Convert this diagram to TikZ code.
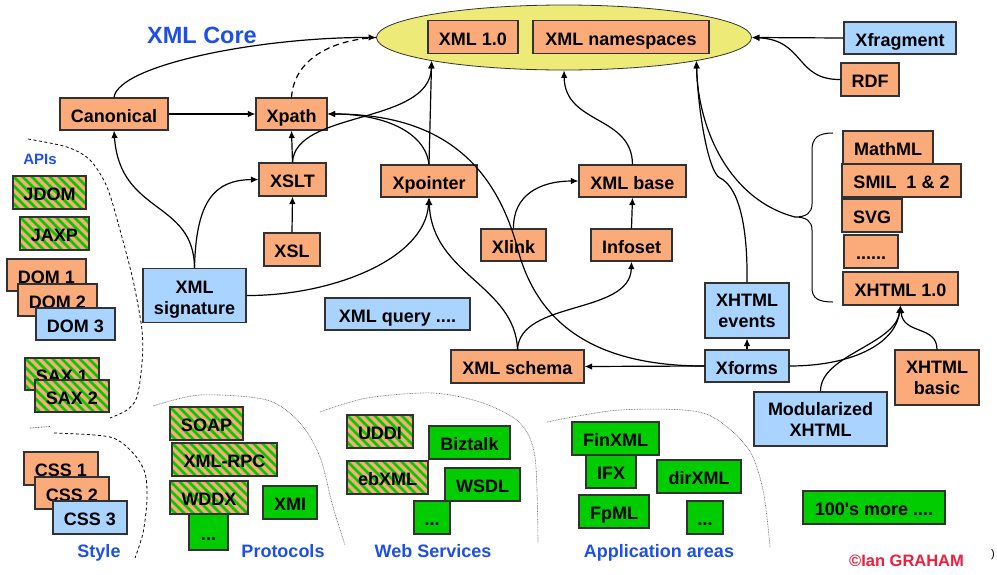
\documentclass[tikz,border=0pt]{standalone}
\usepackage{fontspec}
\setmainfont{Liberation Sans}[Ligatures=TeXOff]
\usetikzlibrary{arrows.meta,shapes.geometric}
\definecolor{cOrange}{RGB}{251,170,122}
\definecolor{cBlue}{RGB}{168,212,255}
\definecolor{cGreen}{RGB}{0,204,0}
\definecolor{cYellow}{RGB}{238,234,120}
\definecolor{cText}{RGB}{30,80,232}
\definecolor{cRed}{RGB}{240,30,60}
\definecolor{cBorder}{RGB}{50,50,50}
\tikzset{
  box/.style={draw=cBorder, line width=1.1pt, inner sep=0pt, align=center, text=black,
    font=\bfseries\fontsize{18}{21}\selectfont},
  one/.style={text height=16pt, text depth=0pt},
  obox/.style={box, one, fill=cOrange},
  bbox/.style={box, one, fill=cBlue},
  gbox/.style={box, one, fill=cGreen},
  sbox/.style={box, one, fill=cOrange, path picture={
      \foreach \k in {-8,...,14}
        \draw[cGreen, line width=2.8pt]
          ([xshift=\k*9pt]path picture bounding box.north west) -- ++(60pt,-60pt);}},
  link/.style={line width=1.2pt, -{Latex[length=7.5pt,width=6.5pt]}},
  plain/.style={line width=1.2pt},
  area/.style={line width=0.8pt, dash pattern=on 3pt off 2.5pt},
  zone/.style={line width=0.6pt, black!60, dash pattern=on 0.8pt off 0.8pt},
  lbl/.style={text=cText, inner sep=0pt, anchor=base, font=\bfseries\fontsize{18}{21}\selectfont},
}
\begin{document}
\begin{tikzpicture}[x=1pt,y=-1pt]
\fill[white] (0,0) rectangle (997,574);
\useasboundingbox (0,0) rectangle (997,574);

% ---- XML core ----
\node[draw=cBorder, line width=0.8pt, fill=cYellow, ellipse, inner sep=0pt,
      minimum width=375pt, minimum height=65pt] (core) at (564,37.5) {};
\node[obox, minimum width=90pt, minimum height=33pt] (xml) at (473,37) {XML 1.0};
\node[obox, minimum width=176pt, minimum height=33pt] (ns) at (621,37) {XML namespaces};
\node[lbl, font=\bfseries\fontsize{23.5}{26}\selectfont] (corelbl) at (202,43) {XML Core};

% ---- core family ----
\node[obox, minimum width=108pt, minimum height=32pt] (can) at (114,114) {Canonical};
\node[obox, minimum width=71pt, minimum height=32pt] (xpath) at (291.5,114) {Xpath};
\node[obox, minimum width=67pt, minimum height=33pt] (xslt) at (292.5,179.5) {XSLT};
\node[obox, minimum width=96pt, minimum height=32pt] (xp) at (429,181) {Xpointer};
\node[obox, minimum width=56pt, minimum height=33pt] (xsl) at (292,249.5) {XSL};
\node[box, fill=cBlue, minimum width=103pt, minimum height=54pt] (sig) at (194.5,295.5) {\rule{0pt}{20.5pt}XML\\signature};
\node[bbox, minimum width=145pt, minimum height=32pt] (query) at (397.5,314) {XML query ....};
\node[obox, minimum width=65pt, minimum height=32pt] (xlink) at (513.5,245) {Xlink};
\node[obox, minimum width=81pt, minimum height=32pt] (info) at (631.5,245) {Infoset};
\node[obox, minimum width=107pt, minimum height=32pt] (base) at (632.5,181) {XML base};
\node[obox, minimum width=133pt, minimum height=33pt] (schema) at (517.5,366.5) {XML schema};
\node[box, fill=cBlue, minimum width=84pt, minimum height=55pt] (ev) at (747,310.5) {XHTML\\events};
\node[bbox, minimum width=84pt, minimum height=32pt] (xf) at (747,366) {Xforms};
\node[bbox, minimum width=112pt, minimum height=32pt] (frag) at (900,38) {Xfragment};
\node[obox, minimum width=58pt, minimum height=33pt] (rdf) at (870,79.5) {RDF};

% ---- XHTML modules ----
\node[obox, minimum width=90pt, minimum height=33pt] (math) at (888,147.5) {MathML};
\node[obox, minimum width=119pt, minimum height=33pt] (smil) at (901.5,180.5) {SMIL\ \ 1 \& 2};
\node[obox, minimum width=60pt, minimum height=33pt] (svg) at (872,215.5) {SVG};
\node[obox, minimum width=54pt, minimum height=33pt] (dots) at (871,251.5) {......};
\node[obox, minimum width=115pt, minimum height=33pt] (xh) at (900.5,288.5) {XHTML 1.0};
\node[box, fill=cOrange, minimum width=84pt, minimum height=55pt] (basic) at (937,377.5) {XHTML\\basic};
\node[box, fill=cBlue, minimum width=133pt, minimum height=54pt] (mod) at (820.5,419) {Modularized\\XHTML};

% ---- APIs ----
\node[lbl, font=\bfseries\fontsize{15}{17}\selectfont] (apis) at (40,164) {APIs};
\node[sbox, minimum width=73pt, minimum height=33pt] (jdom) at (49.5,192.5) {JDOM};
\node[sbox, minimum width=69pt, minimum height=33pt] (jaxp) at (54.5,233.5) {JAXP};
\node[obox, minimum width=79pt, minimum height=32pt] (dom1) at (46.5,275) {DOM 1};
\node[obox, minimum width=79pt, minimum height=32pt] (dom2) at (57.5,300) {DOM 2};
\node[bbox, minimum width=79pt, minimum height=32pt] (dom3) at (75.5,324) {DOM 3};
\node[sbox, minimum width=74pt, minimum height=32pt] (sax1) at (62,374) {SAX 1};
\node[sbox, minimum width=74pt, minimum height=32pt] (sax2) at (72,396) {SAX 2};

% ---- Style ----
\node[obox, minimum width=74pt, minimum height=33pt] (css1) at (61,468.5) {CSS 1};
\node[obox, minimum width=74pt, minimum height=32pt] (css2) at (72,493) {CSS 2};
\node[bbox, minimum width=74pt, minimum height=33pt] (css3) at (90,517.5) {CSS 3};
\node[lbl] (style) at (99,557) {Style};

% ---- Protocols ----
\node[sbox, minimum width=73pt, minimum height=33pt] (soap) at (206.5,423.5) {SOAP};
\node[sbox, minimum width=105pt, minimum height=33pt] (rpc) at (224.5,459.5) {XML-RPC};
\node[sbox, minimum width=78pt, minimum height=33pt] (wddx) at (209,497.5) {WDDX};
\node[gbox, minimum width=39pt, minimum height=36pt] (pmore) at (208.5,532) {...};
\node[gbox, minimum width=54pt, minimum height=33pt] (xmi) at (290,502.5) {XMI};
\node[lbl] (proto) at (283,557) {Protocols};

% ---- Web services ----
\node[sbox, minimum width=66pt, minimum height=33pt] (uddi) at (380,431.5) {UDDI};
\node[gbox, minimum width=81pt, minimum height=33pt] (biz) at (469.5,442.5) {Biztalk};
\node[sbox, minimum width=81pt, minimum height=33pt] (ebxml) at (387.5,477.5) {ebXML};
\node[gbox, minimum width=75pt, minimum height=33pt] (wsdl) at (482.5,484.5) {WSDL};
\node[gbox, minimum width=36pt, minimum height=33pt] (wmore) at (432,517.5) {...};
\node[lbl] (ws) at (433,557) {Web Services};

% ---- Application areas ----
\node[gbox, minimum width=87pt, minimum height=33pt] (fin) at (615.5,438.5) {FinXML};
\node[gbox, minimum width=50pt, minimum height=33pt] (ifx) at (611,471.5) {IFX};
\node[gbox, minimum width=84pt, minimum height=33pt] (dir) at (699,476.5) {dirXML};
\node[gbox, minimum width=70pt, minimum height=33pt] (fpml) at (614,511.5) {FpML};
\node[gbox, minimum width=36pt, minimum height=33pt] (amore) at (705,517.5) {...};
\node[lbl] (app) at (659,557) {Application areas};

\node[gbox, minimum width=142pt, minimum height=33pt] (many) at (874,507.5) {100's more ....};
\node[lbl, text=cRed, font=\bfseries\fontsize{16.5}{19}\selectfont] (copy) at (906.5,566.5) {©Ian GRAHAM};
\node[anchor=base, inner sep=0pt, font=\fontsize{11}{13}\selectfont] (paren) at (993,557) {)};

% ---- group outlines ----
\draw[area] plot[smooth] coordinates {(28,139) (67,147) (90,160) (107,187) (120,230) (133,280) (142,330) (142,363) (137,397) (127,410) (110,418)};
\draw[zone, line width=0.8pt] (30,428) -- (50,426.5);
\draw[area] plot[smooth] coordinates {(54,433) (110,437) (133,453) (145,473) (147,500) (143,533) (135,558)};
\draw[zone] plot[smooth] coordinates {(153,406) (200,395) (267,400) (300,423) (320,457) (333,507) (345,545)};
\draw[zone] plot[smooth] coordinates {(320,412) (367,398) (433,393) (483,403) (520,423) (535,457) (538,543)};
\draw[zone] plot[smooth] coordinates {(547,422) (620,410) (703,413) (747,447) (763,490) (770,547)};

% ---- brace over the XHTML modules ----
\coordinate (btip) at (795,217);
\draw[line width=1pt] (833,133) .. controls (818,133) and (812,138) .. (812,150) -- (812,204)
  .. controls (812,213) and (806,217) .. (btip)
  .. controls (806,217) and (812,221) .. (812,230) -- (812,288)
  .. controls (812,298) and (818,302) .. (833,302);

% ---- connectors ----
\draw[link] (can.north) .. controls (118,65) and (260,37) .. (core.west);
\draw[plain, dash pattern=on 6pt off 4pt] (xpath.north) .. controls (294,60) and (330,40) .. (core.west);
\draw[link] (can.east) -- (xpath.west);
\draw[link] (xslt.north) -- (xpath.south);
\draw[link] (xsl.north) -- (xslt.south);
\draw[link] (xslt.north) .. controls (295,110) and (430,125) .. (core.190);
\draw[link] (xp.north) -- (core.190);
\draw[link] (xp.north) .. controls (425,130) and (380,114) .. (xpath.east);
\draw[link] (xf.west) .. controls (600,366) and (539,328) .. (518,250)
  .. controls (495,163) and (440,114) .. (xpath.east);
\draw[link] (sig.north) .. controls (194,200) and (120,215) .. (can.south);
\draw[link] (sig.north) .. controls (196,200) and (215,180) .. (xslt.west);
\draw[link] (sig.east) .. controls (330,296) and (425,260) .. (xp.south);
\draw[link] (schema.north) .. controls (515,285) and (432,275) .. (xp.south);
\draw[link] (schema.north) .. controls (520,300) and (630,315) .. (info.south);
\draw[link] (xlink.north) .. controls (513,195) and (540,181) .. (base.west);
\draw[link] (info.north) -- (base.south);
\draw[link] (base.north) .. controls (632,115) and (565,125) .. (core.south);
\draw[link] (xf.west) -- (schema.east);
\draw[link] (xf.north) -- (ev.south);
\draw[link] (ev.north) .. controls (748,215) and (735,185) .. (720,178)
  .. controls (708,172) and (698,110) .. (core.350);
\draw[link] (btip) .. controls (730,200) and (698,130) .. (core.350);
\draw[link] (frag.west) -- (core.east);
\draw[link] (rdf.west) .. controls (795,80) and (805,40) .. (core.east);
\draw[link] (xf.east) .. controls (850,366) and (895,345) .. (xh.south);
\draw[link] (mod.north) .. controls (820,355) and (895,345) .. (xh.south);
\draw[link] (basic.north) .. controls (937,325) and (903,335) .. (xh.south);
\end{tikzpicture}
\end{document}
